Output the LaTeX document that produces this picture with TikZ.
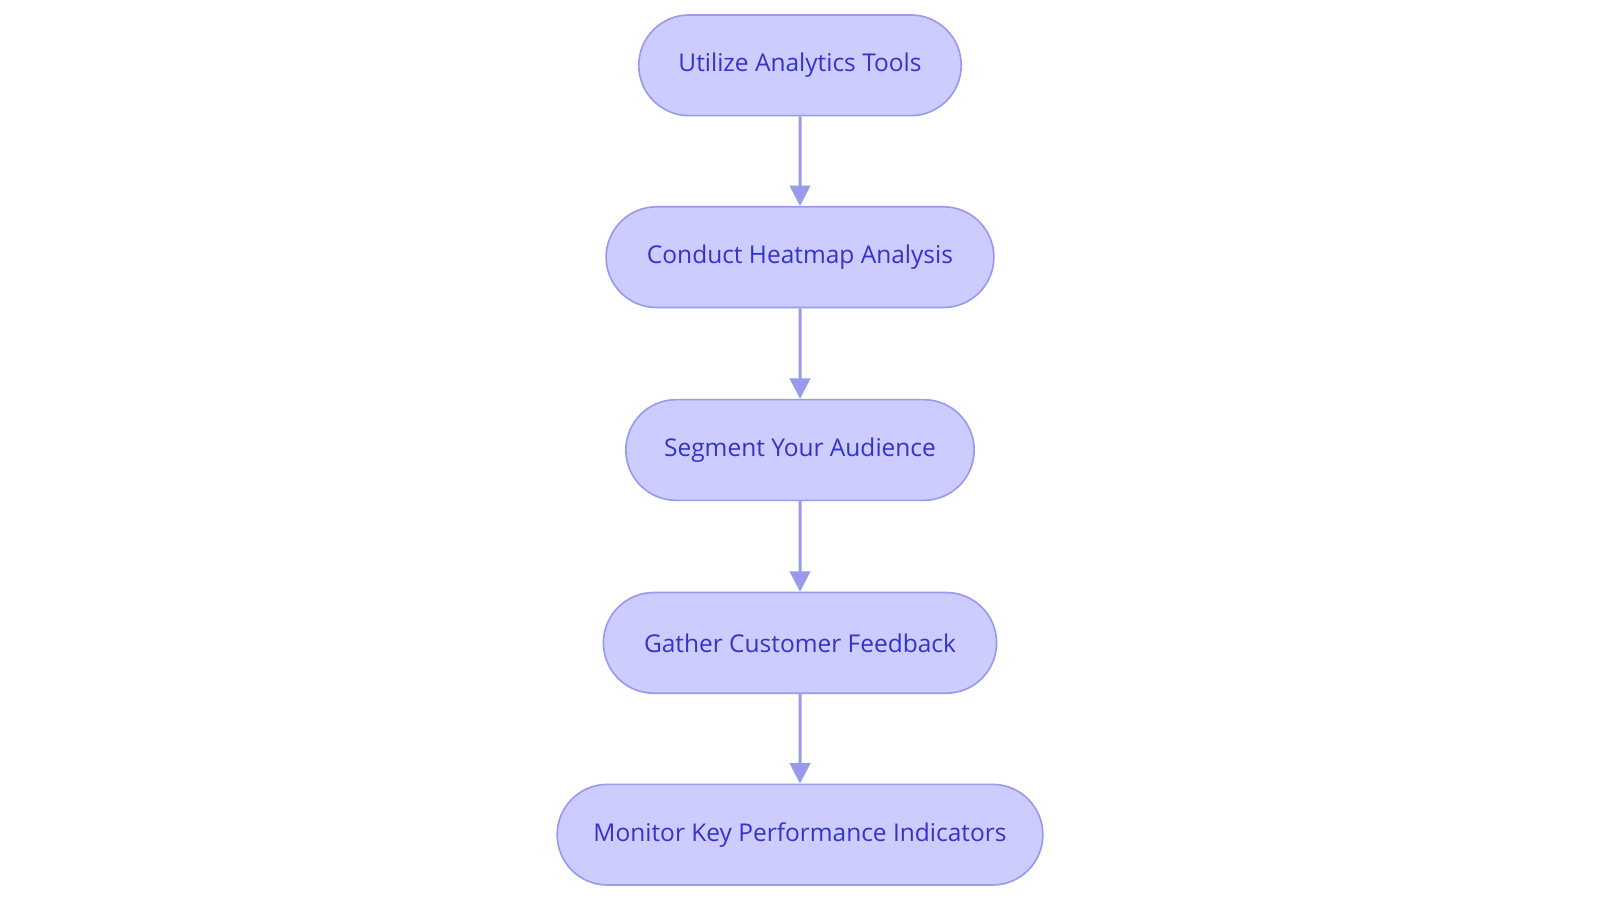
\documentclass[tikz,border=0pt]{standalone}
\usepackage{fontspec}
\setmainfont{Open Sans}
\usetikzlibrary{shapes.misc,arrows.meta}
\definecolor{nfill}{HTML}{CCCCFF}
\definecolor{nline}{HTML}{9999EE}
\definecolor{ntext}{HTML}{3333CC}
\begin{document}
\begin{tikzpicture}[x=0.75pt,y=-0.75pt,
  stepbox/.style={rounded rectangle,draw=nline,fill=nfill,line width=1.2pt,text=ntext,
    minimum height=74pt,inner sep=0pt,font=\fontsize{18}{21}\selectfont},
  arr/.style={draw=nline,line width=2.2pt,-{Triangle[length=15pt,width=15pt]}}]
\useasboundingbox (0,0) rectangle (1568,885);
\node[stepbox,minimum width=237pt] (a) at (784,64) {Utilize Analytics Tools};
\node[stepbox,minimum width=285pt] (b) at (784,252) {Conduct Heatmap Analysis};
\node[stepbox,minimum width=256pt] (c) at (784,441) {Segment Your Audience};
\node[stepbox,minimum width=289pt] (d) at (784,630) {Gather Customer Feedback};
\node[stepbox,minimum width=357pt] (e) at (784,818) {Monitor Key Performance Indicators};
\draw[arr] (a) -- (b);
\draw[arr] (b) -- (c);
\draw[arr] (c) -- (d);
\draw[arr] (d) -- (e);
\end{tikzpicture}
\end{document}
